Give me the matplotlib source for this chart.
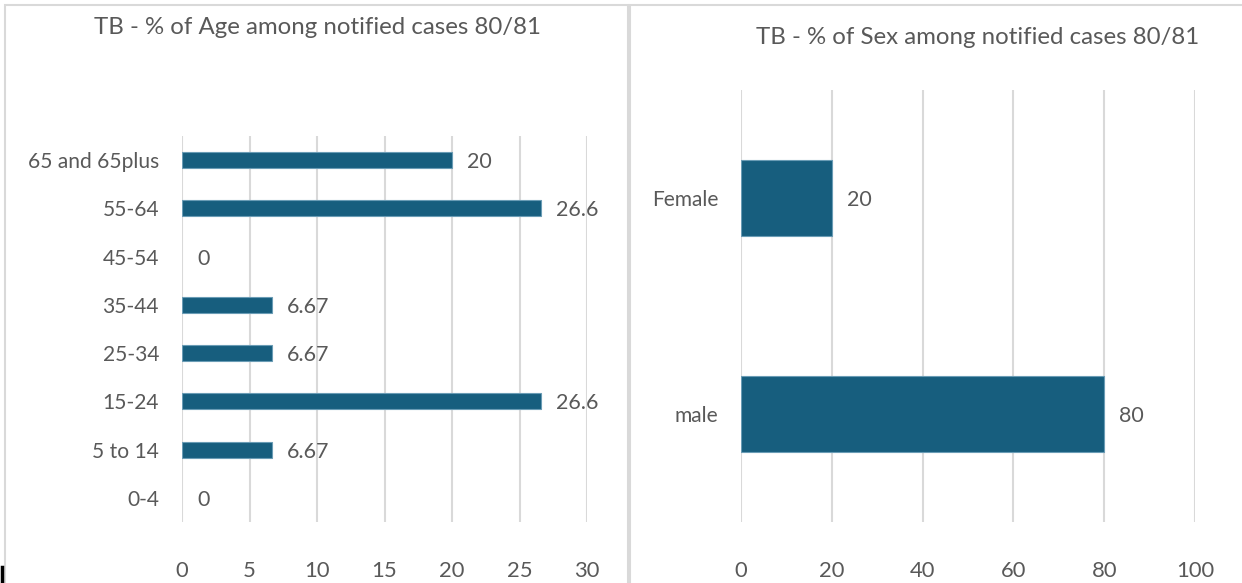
import matplotlib
matplotlib.use("Agg")
import matplotlib.pyplot as plt
from matplotlib.patches import Rectangle
from matplotlib.lines import Line2D

# Data
age_groups = ["0-4", "5 to 14", "15-24", "25-34", "35-44", "45-54", "55-64", "65 and 65plus"]
age_values = [0, 6.67, 26.6, 6.67, 6.67, 0, 26.6, 20]
age_labels = ["0", "6.67", "26.6", "6.67", "6.67", "0", "26.6", "20"]
age_ticks = [0, 5, 10, 15, 20, 25, 30]

sex_groups = ["male", "Female"]
sex_values = [80, 20]
sex_labels = ["80", "20"]
sex_ticks = [0, 20, 40, 60, 80, 100]

title_age = "TB - % of Age among notified cases 80/81"
title_sex = "TB - % of Sex among notified cases 80/81"

W, H = 1242, 583
DPI = 100
plt.rcParams['font.family'] = ['Lato', 'DejaVu Sans']
TXT = '#595959'
GRID = '#D9D9D9'
BAR = '#175E7E'
EDGE = '#6A9CB5'

def px2pt(px):
    return px * 72 / DPI

fs_x = px2pt(22)
fs_y = px2pt(21)
fs_val = px2pt(21.5)
fs_title = px2pt(24)

fig = plt.figure(figsize=(W / DPI, H / DPI), dpi=DPI)
fig.patch.set_facecolor('white')

# panel borders
fig.add_artist(Rectangle((5 / W, -0.05), (628 - 5) / W, 1 - 5 / H + 0.05,
                         transform=fig.transFigure, fill=False, edgecolor=GRID, lw=1.5))
fig.add_artist(Rectangle((630 / W, -0.05), 1.0, 1 - 5 / H + 0.05,
                         transform=fig.transFigure, fill=False, edgecolor=GRID, lw=1.5))
# small dark artifact at bottom-left
fig.add_artist(Line2D([1.5 / W, 1.5 / W], [0, 16 / H], transform=fig.transFigure, color='black', lw=2.5))

def make_ax(x0, x1, y0, y1):
    return fig.add_axes([x0 / W, 1 - y1 / H, (x1 - x0) / W, (y1 - y0) / H])

def style(ax, ticks):
    for s in ax.spines.values():
        s.set_visible(False)
    ax.set_xticks(ticks)
    ax.set_xlim(ticks[0], ticks[-1])
    ax.xaxis.grid(True, color=GRID, lw=1.5)
    ax.set_axisbelow(True)
    ax.tick_params(axis='both', length=0, labelcolor=TXT)
    ax.tick_params(axis='y', pad=px2pt(23), labelsize=fs_y)
    ax.tick_params(axis='x', pad=px2pt(39), labelsize=fs_x)

def bars(ax, values, height):
    y = list(range(len(values)))
    lws = [0.8 if v > 0 else 0 for v in values]
    ax.barh(y, values, height=height, color=BAR, edgecolor=EDGE, linewidth=lws)
    return y

# Left chart
ax1 = make_ax(182, 587, 136, 522)
y1 = bars(ax1, age_values, 0.33)
ax1.set_yticks(y1)
ax1.set_yticklabels(age_groups)
ax1.set_ylim(-0.5, len(age_groups) - 0.5)
style(ax1, age_ticks)
for i, (v, lab) in enumerate(zip(age_values, age_labels)):
    ax1.annotate(lab, (v, i), xytext=(px2pt(15), 0), textcoords='offset points',
                 va='center_baseline', ha='left', fontsize=fs_val, color=TXT)
fig.text(317 / W, 1 - 27 / H, title_age, ha='center', va='center', fontsize=fs_title, color=TXT)

# Right chart
ax2 = make_ax(741, 1195, 90, 522)
y2 = bars(ax2, sex_values, 0.355)
ax2.set_yticks(y2)
ax2.set_yticklabels(sex_groups)
ax2.set_ylim(-0.5, len(sex_groups) - 0.5)
style(ax2, sex_ticks)
for i, (v, lab) in enumerate(zip(sex_values, sex_labels)):
    ax2.annotate(lab, (v, i), xytext=(px2pt(15), 0), textcoords='offset points',
                 va='center_baseline', ha='left', fontsize=fs_val, color=TXT)
fig.text(978 / W, 1 - 37 / H, title_sex, ha='center', va='center', fontsize=fs_title, color=TXT)

fig.savefig('out.png', dpi=DPI)
